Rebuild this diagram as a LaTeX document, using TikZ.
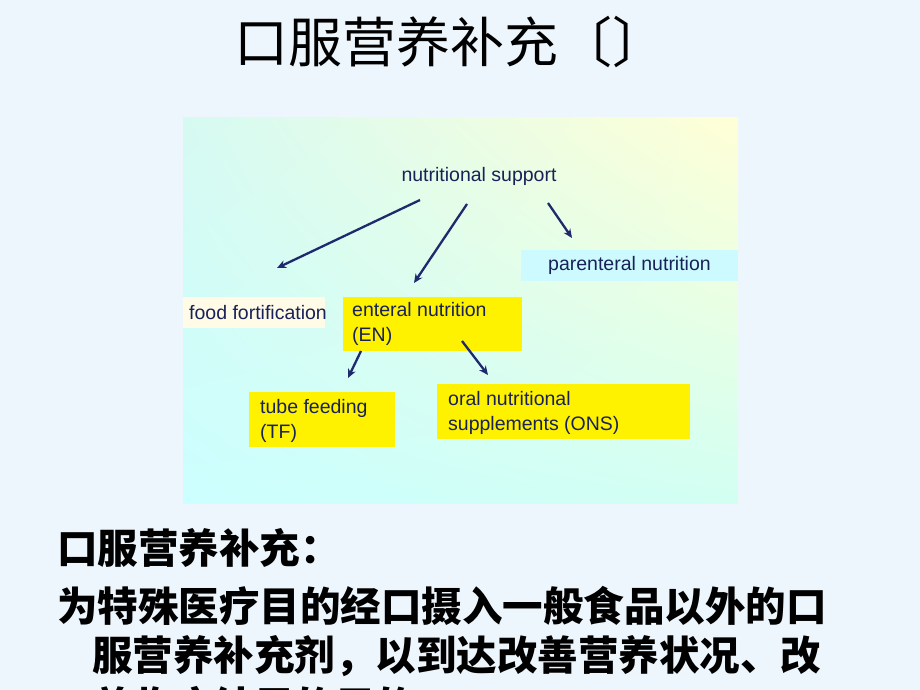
\documentclass[tikz,border=0pt]{standalone}
\usepackage{fontspec}
\setmainfont{Liberation Sans}
\newfontfamily\cjk{Noto Sans CJK SC}
\usetikzlibrary{arrows.meta,shadings}
\definecolor{bgc}{HTML}{EEF6FD}
\definecolor{navy}{HTML}{1F2A6E}
\definecolor{boxy}{HTML}{FFF200}
\definecolor{boxc}{HTML}{CCFAFF}
\definecolor{boxw}{HTML}{FFFBE6}
\definecolor{gul}{HTML}{D6FAF2}
\definecolor{gur}{HTML}{FFFFD6}
\definecolor{gll}{HTML}{CCFFFF}
\definecolor{glr}{HTML}{D2FFF2}
\tikzset{
 lbl/.style={anchor=west,inner sep=0pt,font=\fontsize{19.5}{25}\selectfont,text=navy!80!black,align=left},
 arr/.style={draw=navy,line width=2.3pt,-{Stealth[length=9pt,width=8pt]}},
 cjktxt/.style={anchor=west,inner sep=0pt,font=\cjk\bfseries\fontsize{40.5}{48}\selectfont}
}
\begin{document}
\begin{tikzpicture}[x=1pt,y=-1pt]
\fill[bgc] (0,0) rectangle (920,690);
\useasboundingbox (0,0) rectangle (920,690);
\shade[upper left=gul, upper right=gur, lower left=gll, lower right=glr] (183,118) rectangle (738,503);
\node (title) at (450,42) {\cjk\fontsize{54}{60}\selectfont 口服营养补充〔〕};
% boxes
\fill[boxc] (521,250) rectangle (738,281);
\fill[boxw] (183,297) rectangle (325,328);
\fill[boxy] (343,297) rectangle (522,351);
\fill[boxy] (249,392) rectangle (395,447);
\fill[boxy] (437,384) rectangle (690,439);
\node[lbl,anchor=center] (ns) at (479,176) {nutritional support};
\node[lbl] (pn) at (548,265) {parenteral nutrition};
\node[lbl] (ff) at (189,313) {food fortification};
\node[lbl] (en) at (352,323.5) {enteral nutrition\\(EN)};
\node[lbl] (tf) at (260,421) {tube feeding\\(TF)};
\node[lbl] (ons) at (448,412.5) {oral nutritional\\supplements (ONS)};
\coordinate (a1) at (420,200); \coordinate (b1) at (277,268);
\coordinate (a2) at (467,204); \coordinate (b2) at (414,283);
\coordinate (a3) at (548,203); \coordinate (b3) at (572,238);
\coordinate (a4) at (361,351); \coordinate (b4) at (348,378);
\coordinate (a5) at (462,341); \coordinate (b5) at (488,375);
\draw[arr] (a1) -- (b1);
\draw[arr] (a2) -- (b2);
\draw[arr] (a3) -- (b3);
\draw[arr] (a4) -- (b4);
\draw[arr] (a5) -- (b5);
\node[cjktxt] (t1) at (57,548) {口服营养补充：};
\node[cjktxt] (t2) at (57,606) {为特殊医疗目的经口摄入一般食品以外的口};
\node[cjktxt] (t3) at (92,656) {服营养补充剂，以到达改善营养状况、改};
\begin{scope}
\clip (0,0) rectangle (920,690);
\node[cjktxt] (t4) at (92,706) {善临床结局的目的。};
\end{scope}
\end{tikzpicture}
\end{document}
